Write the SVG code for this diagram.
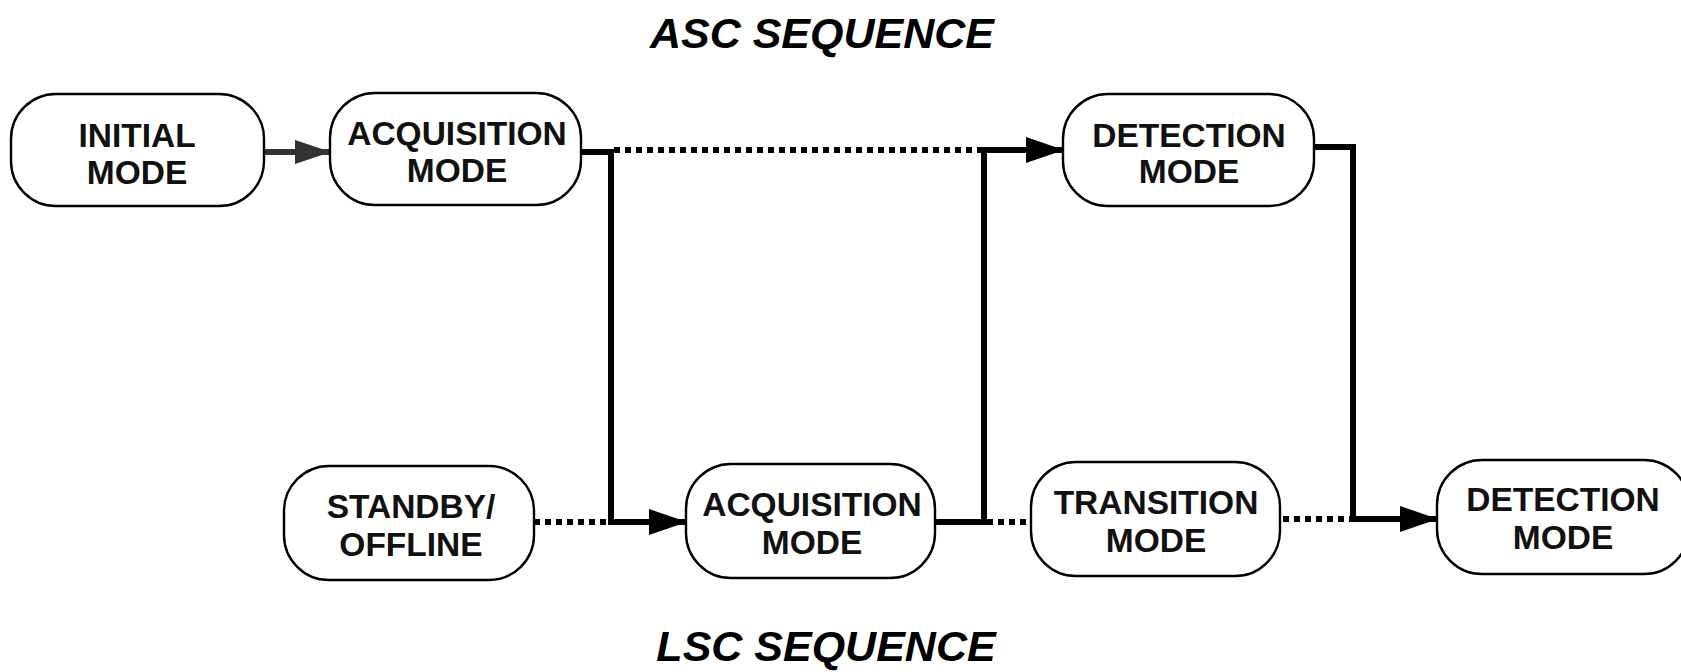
<svg xmlns="http://www.w3.org/2000/svg" width="1681" height="672" viewBox="0 0 1681 672">
<style>
.box{fill:#fff;stroke:#000;stroke-width:2.4}
.t{font-family:"Liberation Sans",Arial,sans-serif;font-weight:bold;font-size:33.5px;text-anchor:middle;fill:#111}
.title{font-family:"Liberation Sans",Arial,sans-serif;font-weight:bold;font-style:italic;font-size:43px;text-anchor:middle;fill:#000}
.solid{fill:none;stroke:#000;stroke-width:6;stroke-linejoin:miter}
.dot{fill:none;stroke:#000;stroke-width:6;stroke-dasharray:6 5}
</style>
<defs>
<marker id="ah" markerWidth="38" markerHeight="26" refX="37" refY="13" orient="auto" markerUnits="userSpaceOnUse">
<path d="M0,0 L38,13 L0,26 Z" fill="#000"/>
</marker>
<marker id="ahg" markerWidth="36" markerHeight="24" refX="35" refY="12" orient="auto" markerUnits="userSpaceOnUse">
<path d="M0,0 L36,12 L0,24 Z" fill="#333"/>
</marker>
</defs>
<text class="title" x="822" y="48">ASC SEQUENCE</text>
<text class="title" x="826" y="661">LSC SEQUENCE</text>
<g id="connectors">
<line x1="264" y1="152" x2="330" y2="152" stroke="#333" stroke-width="6" marker-end="url(#ahg)"/>
<polyline class="solid" points="581,152 611,152 611,522 686,522" marker-end="url(#ah)"/>
<line class="dot" x1="614" y1="150" x2="984" y2="150"/>
<polyline class="solid" points="935,522 984,522 984,150 1063,150" marker-end="url(#ah)"/>
<line class="dot" x1="534" y1="522" x2="609" y2="522"/>
<line class="dot" x1="987" y1="522" x2="1031" y2="522"/>
<line class="dot" x1="1283" y1="519" x2="1353" y2="519"/>
<polyline class="solid" points="1314,147 1353,147 1353,519 1437,519" marker-end="url(#ah)"/>
</g>
<g id="initial"><rect class="box" x="11" y="94" width="253" height="112" rx="45" ry="45"/><text class="t" x="137" y="147">INITIAL</text><text class="t" x="137" y="184">MODE</text></g>
<g id="acq-top"><rect class="box" x="330" y="93" width="251" height="112" rx="45" ry="45"/><text class="t" x="457" y="145">ACQUISITION</text><text class="t" x="457" y="182">MODE</text></g>
<g id="det-top"><rect class="box" x="1063" y="94" width="251" height="112" rx="45" ry="45"/><text class="t" x="1189" y="147">DETECTION</text><text class="t" x="1189" y="183">MODE</text></g>
<g id="standby"><rect class="box" x="284" y="466" width="250" height="114" rx="45" ry="45"/><text class="t" x="411" y="518">STANDBY/</text><text class="t" x="411" y="556">OFFLINE</text></g>
<g id="acq-bottom"><rect class="box" x="686" y="464" width="249" height="114" rx="45" ry="45"/><text class="t" x="812" y="516">ACQUISITION</text><text class="t" x="812" y="554">MODE</text></g>
<g id="transition"><rect class="box" x="1031" y="462" width="249" height="114" rx="45" ry="45"/><text class="t" x="1156" y="514">TRANSITION</text><text class="t" x="1156" y="552">MODE</text></g>
<g id="det-bottom"><rect class="box" x="1437" y="460" width="252" height="114" rx="45" ry="45"/><text class="t" x="1563" y="511">DETECTION</text><text class="t" x="1563" y="549">MODE</text></g>
</svg>
